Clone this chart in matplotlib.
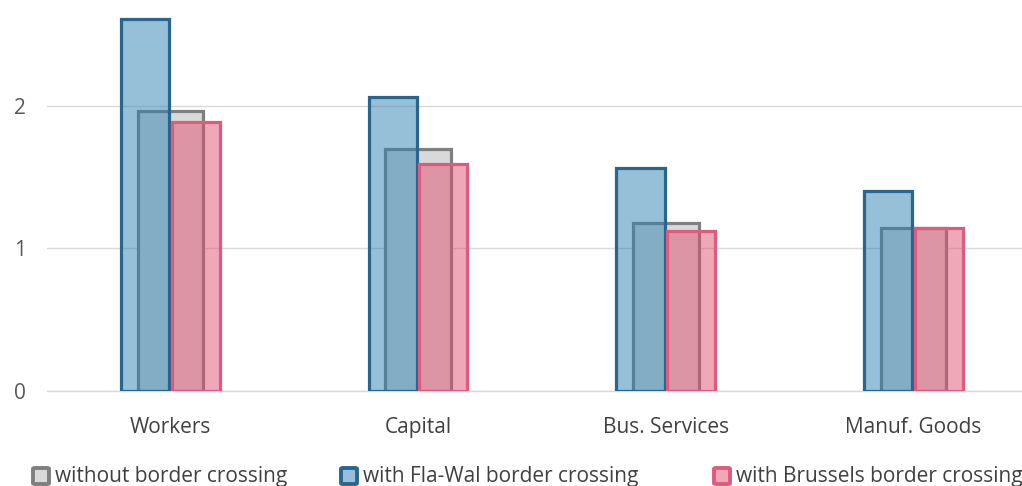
import numpy as np
import matplotlib
matplotlib.use("Agg")
import matplotlib.pyplot as plt
from matplotlib.patches import FancyBboxPatch

plt.rcParams["font.family"] = ["Open Sans", "DejaVu Sans"]

categories = ["Workers", "Capital", "Bus. Services", "Manuf. Goods"]
without_border = [1.965, 1.70, 1.18, 1.145]
fla_wal = [2.61, 2.06, 1.565, 1.40]
brussels = [1.89, 1.59, 1.12, 1.145]
legend_labels = ["without border crossing", "with Fla-Wal border crossing",
                 "with Brussels border crossing"]

GRAY_FACE, GRAY_EDGE = "#d9d9d9", "#7f7f7f"
BLUE_FACE, BLUE_EDGE = (0.18, 0.50, 0.70, 0.5), "#28668f"
PINK_FACE, PINK_EDGE = (0.88, 0.32, 0.44, 0.5), "#e05a7e"

W, H = 1022, 486
step = 247.7  # px between categories
fig = plt.figure(figsize=(W / 100, H / 100), dpi=100)
ax = fig.add_axes([46.5 / W, (H - 391) / H, 4 * step / W, 391 / H])

x = np.arange(len(categories))
lw = 2.3
bw = 0.194
ax.bar(x, without_border, width=0.265, color=GRAY_FACE, edgecolor=GRAY_EDGE,
       linewidth=lw, zorder=2)
ax.bar(x - 0.005 - bw, fla_wal, width=bw, align="edge", color=BLUE_FACE,
       edgecolor=BLUE_EDGE, linewidth=lw, zorder=3)
ax.bar(x + 0.005, brussels, width=bw, align="edge", color=PINK_FACE,
       edgecolor=PINK_EDGE, linewidth=lw, zorder=3)

ax.set_xlim(-0.5, 3.5)
ax.set_ylim(0, 391 / 142.5)
ax.set_yticks([0, 1, 2])
ax.set_xticks(x)
ax.set_xticklabels(categories)
ax.grid(axis="y", color="#d9d9d9", linewidth=1)
ax.axhline(0, color="#d9d9d9", linewidth=1, zorder=0.5, clip_on=False)
ax.set_axisbelow(True)
for s in ax.spines.values():
    s.set_visible(False)
ax.tick_params(axis="both", length=0, colors="#595959", labelsize=15)
ax.tick_params(axis="x", colors="#404040", pad=19)
ax.tick_params(axis="y", pad=15)

# legend at the bottom, partly cut off like the original
items = [(GRAY_FACE, GRAY_EDGE, 33), ("#97bfd9", BLUE_EDGE, 341), ("#f0a8b8", PINK_EDGE, 714)]
for (face, edge, px), label in zip(items, legend_labels):
    box = FancyBboxPatch((px / W, (H - 484) / H), 16 / W, 16 / H,
                         boxstyle="round,pad=0,rounding_size=0.002",
                         transform=fig.transFigure, facecolor=face,
                         edgecolor=edge, linewidth=2.8)
    fig.patches.append(box)
    fig.text((px + 22) / W, (H - 476) / H, label, fontsize=15,
             color="#404040", va="center", ha="left")

fig.savefig("out.png", dpi=100)
